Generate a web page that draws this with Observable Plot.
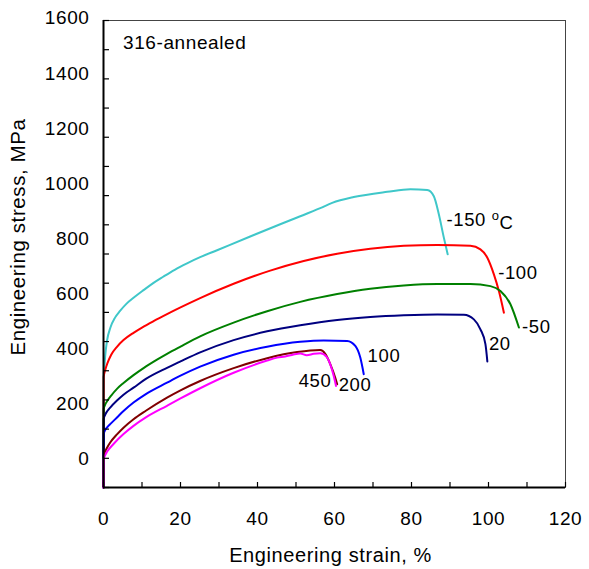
<!DOCTYPE html>
<html>
<head>
<meta charset="utf-8">
<script src="https://cdn.jsdelivr.net/npm/d3@7"></script>
<script src="https://cdn.jsdelivr.net/npm/@observablehq/plot@0.6"></script>
<style>
  html, body { margin: 0; padding: 0; background: #fff; }
  .chart text { letter-spacing: 0.6px; }
</style>
</head>
<body>
<div id="chart"></div>
<script>
// ---- data ----
const temps = ["-150", "-100", "-50", "20", "100", "200", "450"];
const colors = ["#3fc7c9", "#ff0000", "#008000", "#000080", "#0000ff", "#800000", "#ff00ff"];

const strainM150 = [0, 0.05, 0.2, 0.44, 0.9, 1.8, 3.0, 4.3, 6.0, 7.8, 10.5, 13.0, 15.5, 18.5, 21.7, 25.1, 29.5, 38.1, 45.9, 50.3, 56.3, 59.4, 65.0, 73.7, 79.7, 84.1, 85.8, 87.1, 88.4, 89.4];
const stressM150 = [0, 380, 410, 451, 502, 548, 582, 605, 630, 650, 677, 701, 722, 746, 768, 789, 813, 860, 902, 925, 957, 975, 995, 1013, 1022, 1019, 998, 936, 856, 799];

const strainM100 = [0, 0.05, 0.5, 1.0, 2.0, 3.5, 5.2, 7.8, 10.0, 13.0, 16.5, 20.0, 25.1, 33.8, 43.3, 52.0, 60.7, 69.3, 78.0, 86.7, 95.3, 97.9, 99.7, 101.4, 102.7, 104.0];
const stressM100 = [0, 379, 405, 425, 455, 482, 505, 530, 548, 570, 594, 617, 649, 698, 743, 776, 801, 818, 828, 831, 828, 816, 787, 730, 673, 599];

const strainM50 = [0, 0.05, 0.4, 1.0, 2.0, 3.5, 5.2, 7.8, 10.5, 13.9, 16.5, 20.0, 25.1, 33.8, 42.5, 51.1, 60.7, 69.3, 78.0, 86.7, 95.3, 100.5, 103.1, 105.7, 107.9];
const stressM50 = [0, 269, 283, 297, 315, 338, 358, 385, 410, 438, 458, 483, 518, 565, 604, 636, 663, 681, 692, 697, 697, 690, 673, 628, 548];

const strain20 = [0, 0.05, 0.4, 1.0, 1.74, 3.5, 5.2, 7.8, 11.0, 16.5, 20.0, 25.1, 33.8, 42.5, 51.1, 60.7, 69.3, 78.0, 86.7, 93.6, 96.2, 97.9, 99.2, 99.7];
const stress20 = [0, 234, 248, 262, 274, 298, 318, 342, 372, 410, 432, 463, 505, 535, 556, 574, 584, 590, 593, 592, 576, 542, 491, 432];

const strain100 = [0, 0.05, 0.4, 1.0, 1.74, 3.5, 5.2, 7.8, 11.0, 16.5, 20.0, 25.1, 33.8, 42.5, 51.1, 57.2, 63.3, 65.4, 66.7, 67.6];
const stress100 = [0, 183, 196, 207, 217, 240, 262, 291, 320, 359, 383, 414, 455, 482, 499, 504, 502, 485, 445, 388];

const strain200 = [0, 0.05, 0.4, 1.0, 1.74, 3.5, 5.2, 7.8, 11.0, 16.5, 20.0, 25.1, 33.8, 42.5, 50.3, 56.3, 57.6, 58.9, 60.2, 60.7];
const stress200 = [0, 108, 122, 138, 154, 182, 205, 234, 263, 308, 333, 365, 409, 443, 464, 471, 458, 423, 376, 354];

const strain450 = [0, 0.05, 0.4, 1.0, 2.6, 5.2, 7.8, 11.0, 16.5, 20.0, 25.1, 33.8, 42.5, 45.1, 47.2, 49.4, 51.1, 52.8, 54.6, 56.3, 58.0, 58.9, 59.8, 60.4];
const stress450 = [0, 97, 110, 124, 149, 183, 211, 240, 280, 305, 340, 393, 435, 445, 449, 456, 459, 453, 458, 460, 447, 422, 382, 348];

const xTickLabels = [0, 20, 40, 60, 80, 100, 120];
const xMinorTicks = [0, 10, 20, 30, 40, 50, 60, 70, 80, 90, 100, 110, 120];
const yTickLabels = [0, 200, 400, 600, 800, 1000, 1200, 1400, 1600];
const yMinorTicks = [0, 100, 200, 300, 400, 500, 600, 700, 800, 900, 1000, 1100, 1200, 1300, 1400, 1500, 1600];

const curveLabelText = ["-150 oC", "-100", "-50", "20", "100", "450", "200"];
const curveLabelX = [89.1, 102.5, 108.7, 100.1, 68.6, 50.7, 61.1];
const curveLabelY = [916, 736, 548, 493, 451, 365, 350];

const panelTitle = "316-annealed";
const xTitle = "Engineering strain, %";
const yTitle = "Engineering stress, MPa";

// In the original figure the y tick labels are drawn on a slightly
// compressed scale relative to the tick marks; reproduce that registration.
const yLabelZero = 97, yLabelGain = 0.944;

// ---- build table ----
const seriesStrain = [strainM150, strainM100, strainM50, strain20, strain100, strain200, strain450];
const seriesStress = [stressM150, stressM100, stressM50, stress20, stress100, stress200, stress450];
const rows = [];
temps.forEach((t, i) => {
  seriesStrain[i].forEach((s, j) => rows.push({temp: t, strain: s, stress: seriesStress[i][j]}));
});
const curveLabels = curveLabelText.map((t, i) => ({text: t, x: curveLabelX[i], y: curveLabelY[i]}));

const plot = Plot.plot({
  width: 589,
  height: 569,
  marginLeft: 103,
  marginRight: 24,
  marginTop: 20,
  marginBottom: 82,
  className: "chart",
  style: {fontFamily: "'Liberation Sans', Arial, Helvetica, sans-serif", background: "#fff", color: "#000"},
  x: {domain: [0, 120], axis: null},
  y: {domain: [0, 1600], axis: null},
  color: {domain: temps, range: colors},
  marks: [
    Plot.frame({stroke: "#444", strokeWidth: 1}),
    Plot.line(rows, {x: "strain", y: "stress", z: "temp", stroke: "temp", strokeWidth: 2, curve: "monotone-x"}),
    Plot.ruleX([0], {stroke: "#000", strokeWidth: 2}),
    Plot.ruleY([0], {stroke: "#000", strokeWidth: 2}),
    Plot.axisY(yMinorTicks, {anchor: "left", tickSize: 6, dx: 6, text: null, label: null, strokeWidth: 1.2}),
    Plot.axisX(xMinorTicks, {anchor: "bottom", tickSize: 5, dy: -5, text: null, label: null, strokeWidth: 1.2}),
    Plot.axisX(xTickLabels, {anchor: "bottom", tickSize: 0, tickPadding: 24, label: null, fontSize: 19}),
    Plot.text(yTickLabels, {y: d => yLabelZero + d * yLabelGain, text: d => String(d), frameAnchor: "left", textAnchor: "end", dx: -14, fontSize: 19}),
    Plot.text([panelTitle], {frameAnchor: "top-left", dx: 19.5, dy: 22, textAnchor: "start", lineAnchor: "middle", fontSize: 19}),
    Plot.text([xTitle], {frameAnchor: "bottom", textAnchor: "middle", dx: -4, dy: 68, lineAnchor: "middle", fontSize: 20}),
    Plot.text([yTitle], {frameAnchor: "left", textAnchor: "middle", rotate: -90, dx: -85, dy: -17, lineAnchor: "middle", fontSize: 20.5}),
    Plot.text(curveLabels, {x: "x", y: "y", text: "text", textAnchor: "start", lineAnchor: "middle", fontSize: 18.5})
  ]
});

// raise the "o" of the degree label as in the original
d3.select(plot).selectAll("text").filter(function () { return this.textContent === "-150 oC"; })
  .each(function () {
    const t = d3.select(this);
    t.text(null);
    t.append("tspan").text("-150 ");
    t.append("tspan").text("o").attr("font-size", "13").attr("dy", "-0.45em");
    t.append("tspan").text("C").attr("dy", "0.45em");
  });

document.getElementById("chart").appendChild(plot);
</script>
</body>
</html>
